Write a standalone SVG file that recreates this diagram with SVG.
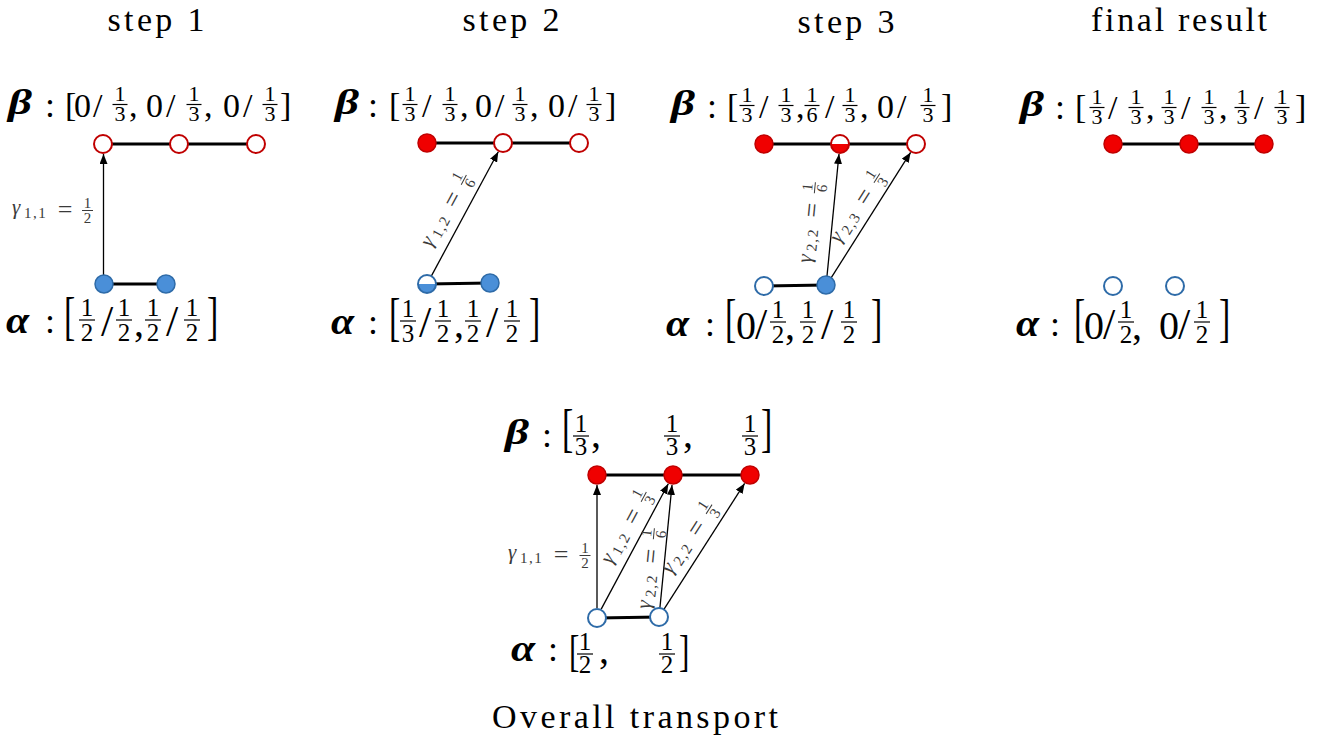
<svg xmlns="http://www.w3.org/2000/svg" width="1322" height="744" viewBox="0 0 1322 744">
<style>
.t{font-family:"Liberation Serif","DejaVu Serif",serif;fill:#000}
.title{font-size:34px}
.mb{font-size:36px;font-weight:bold;font-style:italic}
.ab{font-size:38px;font-weight:bold;font-style:italic}
.m{font-size:34px}
.ma{font-size:40px}
.sl{font-size:44px}
.col{font-size:36px;text-anchor:middle}
.fr{font-size:22px;text-anchor:middle}
.fa{font-size:25px;text-anchor:middle}
.bk{font-size:52px}
.g{font-family:"Liberation Serif","DejaVu Serif",serif;fill:#3a3a3a}
.gi{font-size:21px;font-style:italic}
.gs{font-size:15px;letter-spacing:1.5px}
.ge{font-size:26px;text-anchor:middle}
.gf{font-size:15px;text-anchor:middle}
.bar{stroke:#000;stroke-width:1.2}
.gbar{stroke:#3a3a3a;stroke-width:1}
.link{stroke:#000;stroke-width:3;fill:none}
.arr{stroke:#000;stroke-width:1.3;fill:none;marker-end:url(#ah)}
.rf{fill:#f00000;stroke:#c00000;stroke-width:1.5}
.rh{fill:#fff;stroke:#c00000;stroke-width:2}
.bf{fill:#4a8fd8;stroke:#2e6ba8;stroke-width:1.5}
.bh{fill:#fff;stroke:#2e6ba8;stroke-width:2}
</style>
<defs>
<marker id="ah" markerWidth="10" markerHeight="8" refX="10" refY="4" orient="auto" markerUnits="userSpaceOnUse"><path d="M0,0 L10,4 L0,8 z" fill="#000"/></marker>
<clipPath id="bot"><rect x="-11" y="0" width="22" height="11"/></clipPath>
</defs>

<g id="titles">
<text class="t title" x="156" y="31" text-anchor="middle" textLength="97" lengthAdjust="spacing">step 1</text>
<text class="t title" x="511" y="31" text-anchor="middle" textLength="97" lengthAdjust="spacing">step 2</text>
<text class="t title" x="846" y="33" text-anchor="middle" textLength="97" lengthAdjust="spacing">step 3</text>
<text class="t title" x="1179" y="31" text-anchor="middle" textLength="176" lengthAdjust="spacing">final result</text>
<text class="t title" x="635" y="728" text-anchor="middle" textLength="286" lengthAdjust="spacing">Overall transport</text>
</g>

<g id="connectors">
<line class="link" x1="103" y1="144" x2="256" y2="144"/>
<line class="link" x1="104" y1="284" x2="166" y2="284"/>
<line class="link" x1="427" y1="143" x2="579" y2="143"/>
<line class="link" x1="427" y1="284" x2="490" y2="283"/>
<line class="link" x1="764" y1="144" x2="916" y2="144"/>
<line class="link" x1="764" y1="286" x2="826" y2="285"/>
<line class="link" x1="1113" y1="144" x2="1264" y2="144"/>
<line class="link" x1="597" y1="475" x2="750" y2="475"/>
<line class="link" x1="597" y1="618" x2="659" y2="617"/>
<line class="arr" x1="103.5" y1="275" x2="103.5" y2="154"/>
<line class="arr" x1="431.3" y1="276.1" x2="498.3" y2="151.8"/>
<line class="arr" x1="826.9" y1="277" x2="839" y2="154"/>
<line class="arr" x1="830.8" y1="278.4" x2="910.6" y2="152.4"/>
<line class="arr" x1="597" y1="608" x2="597" y2="485"/>
<line class="arr" x1="601.2" y1="609.1" x2="668.3" y2="483.8"/>
<line class="arr" x1="659.9" y1="608" x2="672" y2="485"/>
<line class="arr" x1="663.9" y1="609.4" x2="744.6" y2="483.4"/>
</g>

<g id="s1-b1"><circle class="rh" cx="103" cy="144" r="9"/></g>
<g id="s1-b2"><circle class="rh" cx="179" cy="144" r="9"/></g>
<g id="s1-b3"><circle class="rh" cx="256" cy="144" r="9"/></g>
<g id="s1-a1"><circle class="bf" cx="104" cy="284" r="9"/></g>
<g id="s1-a2"><circle class="bf" cx="166" cy="284" r="9"/></g>

<g id="s2-b1"><circle class="rf" cx="427" cy="143" r="9"/></g>
<g id="s2-b2"><circle class="rh" cx="503" cy="143" r="9"/></g>
<g id="s2-b3"><circle class="rh" cx="579" cy="143" r="9"/></g>
<g id="s2-a1" transform="translate(427,284)"><circle r="9" fill="#fff"/><circle r="9" fill="#4a8fd8" clip-path="url(#bot)"/><circle r="9" fill="none" stroke="#2e6ba8" stroke-width="2"/></g>
<g id="s2-a2"><circle class="bf" cx="490" cy="283" r="9"/></g>

<g id="s3-b1"><circle class="rf" cx="764" cy="144" r="9"/></g>
<g id="s3-b2" transform="translate(840,144)"><circle r="9" fill="#fff"/><circle r="9" fill="#f00000" clip-path="url(#bot)"/><circle r="9" fill="none" stroke="#c00000" stroke-width="2"/></g>
<g id="s3-b3"><circle class="rh" cx="916" cy="144" r="9"/></g>
<g id="s3-a1"><circle class="bh" cx="764" cy="286" r="9"/></g>
<g id="s3-a2"><circle class="bf" cx="826" cy="285" r="9"/></g>

<g id="f-b1"><circle class="rf" cx="1113" cy="144" r="9"/></g>
<g id="f-b2"><circle class="rf" cx="1189" cy="144" r="9"/></g>
<g id="f-b3"><circle class="rf" cx="1264" cy="144" r="9"/></g>
<g id="f-a1"><circle class="bh" cx="1113" cy="286" r="9"/></g>
<g id="f-a2"><circle class="bh" cx="1175" cy="286" r="9"/></g>

<g id="o-b1"><circle class="rf" cx="597" cy="475" r="9"/></g>
<g id="o-b2"><circle class="rf" cx="673" cy="475" r="9"/></g>
<g id="o-b3"><circle class="rf" cx="750" cy="475" r="9"/></g>
<g id="o-a1"><circle class="bh" cx="597" cy="618" r="9"/></g>
<g id="o-a2"><circle class="bh" cx="659" cy="617" r="9"/></g>

<g id="s1-beta">
<text class="t mb" transform="translate(8,114) scale(1.3,1)">β</text>
<text class="t"><tspan class="col" x="50" y="117">:</tspan><tspan class="m" x="65" y="116">[</tspan><tspan class="m" x="74" y="117">0</tspan><tspan class="m" x="93" y="117">/</tspan><tspan class="fr" x="120" y="101">1</tspan><tspan class="fr" x="120" y="121">3</tspan><tspan class="m" x="129" y="117">,</tspan><tspan class="m" x="146" y="117">0</tspan><tspan class="m" x="166" y="117">/</tspan><tspan class="fr" x="194" y="101">1</tspan><tspan class="fr" x="194" y="121">3</tspan><tspan class="m" x="204" y="117">,</tspan><tspan class="m" x="223" y="117">0</tspan><tspan class="m" x="243" y="117">/</tspan><tspan class="fr" x="270" y="101">1</tspan><tspan class="fr" x="270" y="121">3</tspan><tspan class="m" x="280" y="116">]</tspan></text>
<line class="bar" x1="112.5" y1="104.5" x2="127.5" y2="104.5"/><line class="bar" x1="186.5" y1="104.5" x2="201.5" y2="104.5"/><line class="bar" x1="262.5" y1="104.5" x2="277.5" y2="104.5"/>
</g>

<g id="s1-alpha">
<text class="t ab" transform="translate(6,333) scale(1.1,1)">α</text>
<text class="t bk" transform="translate(64,333.5) scale(0.65,1)">[</text>
<text class="t bk" transform="translate(207,333.5) scale(0.65,1)">]</text>
<text class="t"><tspan class="col" x="50" y="333">:</tspan><tspan class="fa" x="87" y="316">1</tspan><tspan class="fa" x="87" y="341">2</tspan><tspan class="sl" x="101" y="336">/</tspan><tspan class="fa" x="124" y="316">1</tspan><tspan class="fa" x="124" y="341">2</tspan><tspan class="ma" x="134" y="336">,</tspan><tspan class="fa" x="153" y="316">1</tspan><tspan class="fa" x="153" y="341">2</tspan><tspan class="sl" x="166" y="336">/</tspan><tspan class="fa" x="192" y="316">1</tspan><tspan class="fa" x="192" y="341">2</tspan></text>
<line class="bar" x1="79" y1="320" x2="95" y2="320"/><line class="bar" x1="116" y1="320" x2="132" y2="320"/><line class="bar" x1="145" y1="320" x2="161" y2="320"/><line class="bar" x1="184" y1="320" x2="200" y2="320"/>
</g>

<g id="s2-beta">
<text class="t mb" transform="translate(335,114) scale(1.3,1)">β</text>
<text class="t"><tspan class="col" x="373" y="117">:</tspan><tspan class="m" x="389" y="116">[</tspan><tspan class="fr" x="410" y="101">1</tspan><tspan class="fr" x="410" y="121">3</tspan><tspan class="m" x="422" y="117">/</tspan><tspan class="fr" x="450" y="101">1</tspan><tspan class="fr" x="450" y="121">3</tspan><tspan class="m" x="460" y="117">,</tspan><tspan class="m" x="475" y="117">0</tspan><tspan class="m" x="495" y="117">/</tspan><tspan class="fr" x="520" y="101">1</tspan><tspan class="fr" x="520" y="121">3</tspan><tspan class="m" x="530" y="117">,</tspan><tspan class="m" x="548" y="117">0</tspan><tspan class="m" x="568" y="117">/</tspan><tspan class="fr" x="594" y="101">1</tspan><tspan class="fr" x="594" y="121">3</tspan><tspan class="m" x="605" y="116">]</tspan></text>
<line class="bar" x1="402.5" y1="104.5" x2="417.5" y2="104.5"/><line class="bar" x1="442.5" y1="104.5" x2="457.5" y2="104.5"/><line class="bar" x1="512.5" y1="104.5" x2="527.5" y2="104.5"/><line class="bar" x1="586.5" y1="104.5" x2="601.5" y2="104.5"/>
</g>

<g id="s2-alpha">
<text class="t ab" transform="translate(331,334) scale(1.1,1)">α</text>
<text class="t bk" transform="translate(389,334.5) scale(0.65,1)">[</text>
<text class="t bk" transform="translate(529,334.5) scale(0.65,1)">]</text>
<text class="t"><tspan class="col" x="373" y="334">:</tspan><tspan class="fa" x="408" y="317">1</tspan><tspan class="fa" x="408" y="342">3</tspan><tspan class="sl" x="419" y="337">/</tspan><tspan class="fa" x="443" y="317">1</tspan><tspan class="fa" x="443" y="342">2</tspan><tspan class="ma" x="454" y="337">,</tspan><tspan class="fa" x="473" y="317">1</tspan><tspan class="fa" x="473" y="342">2</tspan><tspan class="sl" x="486" y="337">/</tspan><tspan class="fa" x="512" y="317">1</tspan><tspan class="fa" x="512" y="342">2</tspan></text>
<line class="bar" x1="400" y1="321" x2="416" y2="321"/><line class="bar" x1="435" y1="321" x2="451" y2="321"/><line class="bar" x1="465" y1="321" x2="481" y2="321"/><line class="bar" x1="504" y1="321" x2="520" y2="321"/>
</g>

<g id="s3-beta">
<text class="t mb" transform="translate(671,115) scale(1.3,1)">β</text>
<text class="t"><tspan class="col" x="712" y="118">:</tspan><tspan class="m" x="727" y="117">[</tspan><tspan class="fr" x="747" y="102">1</tspan><tspan class="fr" x="747" y="122">3</tspan><tspan class="m" x="759" y="118">/</tspan><tspan class="fr" x="786" y="102">1</tspan><tspan class="fr" x="786" y="122">3</tspan><tspan class="m" x="796" y="118">,</tspan><tspan class="fr" x="812" y="102">1</tspan><tspan class="fr" x="812" y="122">6</tspan><tspan class="m" x="825" y="118">/</tspan><tspan class="fr" x="850" y="102">1</tspan><tspan class="fr" x="850" y="122">3</tspan><tspan class="m" x="860" y="118">,</tspan><tspan class="m" x="877" y="118">0</tspan><tspan class="m" x="897" y="118">/</tspan><tspan class="fr" x="928" y="102">1</tspan><tspan class="fr" x="928" y="122">3</tspan><tspan class="m" x="941" y="117">]</tspan></text>
<line class="bar" x1="739.5" y1="105.5" x2="754.5" y2="105.5"/><line class="bar" x1="778.5" y1="105.5" x2="793.5" y2="105.5"/><line class="bar" x1="804.5" y1="105.5" x2="819.5" y2="105.5"/><line class="bar" x1="842.5" y1="105.5" x2="857.5" y2="105.5"/><line class="bar" x1="920.5" y1="105.5" x2="935.5" y2="105.5"/>
</g>

<g id="s3-alpha">
<text class="t ab" transform="translate(666,336) scale(1.1,1)">α</text>
<text class="t bk" transform="translate(725,336) scale(0.65,1)">[</text>
<text class="t bk" transform="translate(871,336) scale(0.65,1)">]</text>
<text class="t"><tspan class="col" x="710" y="336">:</tspan><tspan class="ma" x="736" y="339">0</tspan><tspan class="sl" x="755" y="339">/</tspan><tspan class="fa" x="778" y="318">1</tspan><tspan class="fa" x="778" y="343">2</tspan><tspan class="ma" x="785" y="339">,</tspan><tspan class="fa" x="808" y="318">1</tspan><tspan class="fa" x="808" y="343">2</tspan><tspan class="sl" x="821" y="339">/</tspan><tspan class="fa" x="849" y="318">1</tspan><tspan class="fa" x="849" y="343">2</tspan></text>
<line class="bar" x1="770" y1="322" x2="786" y2="322"/><line class="bar" x1="800" y1="322" x2="816" y2="322"/><line class="bar" x1="841" y1="322" x2="857" y2="322"/>
</g>

<g id="f-beta">
<text class="t mb" transform="translate(1020,116) scale(1.3,1)">β</text>
<text class="t"><tspan class="col" x="1060" y="119">:</tspan><tspan class="m" x="1075" y="118">[</tspan><tspan class="fr" x="1097" y="104">1</tspan><tspan class="fr" x="1097" y="124">3</tspan><tspan class="m" x="1108" y="119">/</tspan><tspan class="fr" x="1136" y="104">1</tspan><tspan class="fr" x="1136" y="124">3</tspan><tspan class="m" x="1146" y="119">,</tspan><tspan class="fr" x="1169" y="104">1</tspan><tspan class="fr" x="1169" y="124">3</tspan><tspan class="m" x="1181" y="119">/</tspan><tspan class="fr" x="1209" y="104">1</tspan><tspan class="fr" x="1209" y="124">3</tspan><tspan class="m" x="1219" y="119">,</tspan><tspan class="fr" x="1242" y="104">1</tspan><tspan class="fr" x="1242" y="124">3</tspan><tspan class="m" x="1254" y="119">/</tspan><tspan class="fr" x="1282" y="104">1</tspan><tspan class="fr" x="1282" y="124">3</tspan><tspan class="m" x="1295" y="118">]</tspan></text>
<line class="bar" x1="1089.5" y1="107.5" x2="1104.5" y2="107.5"/><line class="bar" x1="1128.5" y1="107.5" x2="1143.5" y2="107.5"/><line class="bar" x1="1161.5" y1="107.5" x2="1176.5" y2="107.5"/><line class="bar" x1="1201.5" y1="107.5" x2="1216.5" y2="107.5"/><line class="bar" x1="1234.5" y1="107.5" x2="1249.5" y2="107.5"/><line class="bar" x1="1274.5" y1="107.5" x2="1289.5" y2="107.5"/>
</g>

<g id="f-alpha">
<text class="t ab" transform="translate(1016,336) scale(1.1,1)">α</text>
<text class="t bk" transform="translate(1074,336) scale(0.65,1)">[</text>
<text class="t bk" transform="translate(1219,336) scale(0.65,1)">]</text>
<text class="t"><tspan class="col" x="1055" y="336">:</tspan><tspan class="ma" x="1084" y="339">0</tspan><tspan class="sl" x="1103" y="339">/</tspan><tspan class="fa" x="1126" y="318">1</tspan><tspan class="fa" x="1126" y="343">2</tspan><tspan class="ma" x="1132" y="339">,</tspan><tspan class="ma" x="1159" y="339">0</tspan><tspan class="sl" x="1178" y="339">/</tspan><tspan class="fa" x="1202" y="318">1</tspan><tspan class="fa" x="1202" y="343">2</tspan></text>
<line class="bar" x1="1118" y1="322" x2="1134" y2="322"/><line class="bar" x1="1194" y1="322" x2="1210" y2="322"/>
</g>

<g id="o-beta">
<text class="t mb" transform="translate(505,444) scale(1.3,1)">β</text>
<text class="t bk" transform="translate(562,446) scale(0.65,1)">[</text>
<text class="t bk" transform="translate(761,446) scale(0.65,1)">]</text>
<text class="t"><tspan class="col" x="547" y="447">:</tspan><tspan class="fa" x="581" y="432">1</tspan><tspan class="fa" x="581" y="455">3</tspan><tspan class="ma" x="591" y="447">,</tspan><tspan class="fa" x="672" y="432">1</tspan><tspan class="fa" x="672" y="455">3</tspan><tspan class="ma" x="683" y="447">,</tspan><tspan class="fa" x="750" y="432">1</tspan><tspan class="fa" x="750" y="455">3</tspan></text>
<line class="bar" x1="573" y1="436" x2="589" y2="436"/><line class="bar" x1="664" y1="436" x2="680" y2="436"/><line class="bar" x1="742" y1="436" x2="758" y2="436"/>
</g>

<g id="o-alpha">
<text class="t ab" transform="translate(511,661) scale(1.15,1)">α</text>
<text class="t bk" transform="translate(569,666) scale(0.6,0.85)">[</text>
<text class="t bk" transform="translate(679,666) scale(0.6,0.85)">]</text>
<text class="t"><tspan class="col" x="553" y="661">:</tspan><tspan class="fa" x="585" y="650">1</tspan><tspan class="fa" x="585" y="673">2</tspan><tspan class="ma" x="599" y="663">,</tspan><tspan class="fa" x="667" y="650">1</tspan><tspan class="fa" x="667" y="673">2</tspan></text>
<line class="bar" x1="577" y1="654" x2="593" y2="654"/><line class="bar" x1="659" y1="654" x2="675" y2="654"/>
</g>

<g id="g-s1" transform="translate(53,210)">
<text class="g"><tspan class="gi" x="-41" y="4">γ</tspan><tspan class="gs" x="-29" y="8">1,1</tspan><tspan class="ge" x="12" y="8">=</tspan><tspan class="gf" x="34.5" y="-2">1</tspan><tspan class="gf" x="34.5" y="12.5">2</tspan></text>
<line class="gbar" x1="29" y1="0.5" x2="40" y2="0.5"/>
</g>
<g id="g-s2" transform="translate(447,210) rotate(-61.7)">
<text class="g"><tspan class="gi" x="-41" y="4">γ</tspan><tspan class="gs" x="-29" y="8">1,2</tspan><tspan class="ge" x="12" y="8">=</tspan><tspan class="gf" x="34.5" y="-2">1</tspan><tspan class="gf" x="34.5" y="12.5">6</tspan></text>
<line class="gbar" x1="29" y1="0.5" x2="40" y2="0.5"/>
</g>
<g id="g-s3a" transform="translate(811,222) rotate(-84.4)">
<text class="g"><tspan class="gi" x="-41" y="4">γ</tspan><tspan class="gs" x="-29" y="8">2,2</tspan><tspan class="ge" x="12" y="8">=</tspan><tspan class="gf" x="34.5" y="-2">1</tspan><tspan class="gf" x="34.5" y="12.5">6</tspan></text>
<line class="gbar" x1="29" y1="0.5" x2="40" y2="0.5"/>
</g>
<g id="g-s3b" transform="translate(858,207) rotate(-57.6)">
<text class="g"><tspan class="gi" x="-41" y="4">γ</tspan><tspan class="gs" x="-29" y="8">2,3</tspan><tspan class="ge" x="12" y="8">=</tspan><tspan class="gf" x="34.5" y="-2">1</tspan><tspan class="gf" x="34.5" y="12.5">3</tspan></text>
<line class="gbar" x1="29" y1="0.5" x2="40" y2="0.5"/>
</g>
<g id="g-o11" transform="translate(549,555)">
<text class="g"><tspan class="gi" x="-41" y="4">γ</tspan><tspan class="gs" x="-29" y="8">1,1</tspan><tspan class="ge" x="12" y="8">=</tspan><tspan class="gf" x="36" y="-2">1</tspan><tspan class="gf" x="36" y="12.5">2</tspan></text>
<line class="gbar" x1="30.5" y1="0.5" x2="41.5" y2="0.5"/>
</g>
<g id="g-o12" transform="translate(627,527) rotate(-61.8)">
<text class="g"><tspan class="gi" x="-41" y="4">γ</tspan><tspan class="gs" x="-29" y="8">1,2</tspan><tspan class="ge" x="12" y="8">=</tspan><tspan class="gf" x="34.5" y="-2">1</tspan><tspan class="gf" x="34.5" y="12.5">3</tspan></text>
<line class="gbar" x1="29" y1="0.5" x2="40" y2="0.5"/>
</g>
<g id="g-o22a" transform="translate(650,568) rotate(-84.4)">
<text class="g"><tspan class="gi" x="-41" y="4">γ</tspan><tspan class="gs" x="-29" y="8">2,2</tspan><tspan class="ge" x="12" y="8">=</tspan><tspan class="gf" x="34.5" y="-2">1</tspan><tspan class="gf" x="34.5" y="12.5">6</tspan></text>
<line class="gbar" x1="29" y1="0.5" x2="40" y2="0.5"/>
</g>
<g id="g-o22b" transform="translate(690,538) rotate(-57.3)">
<text class="g"><tspan class="gi" x="-41" y="4">γ</tspan><tspan class="gs" x="-29" y="8">2,2</tspan><tspan class="ge" x="12" y="8">=</tspan><tspan class="gf" x="34.5" y="-2">1</tspan><tspan class="gf" x="34.5" y="12.5">3</tspan></text>
<line class="gbar" x1="29" y1="0.5" x2="40" y2="0.5"/>
</g>
</svg>
